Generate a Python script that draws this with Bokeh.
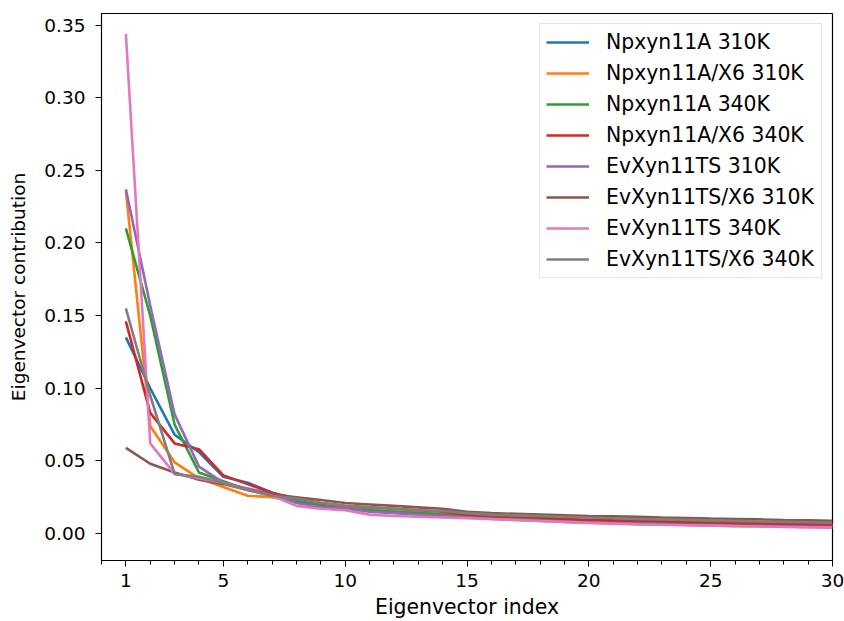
from bokeh.plotting import figure
from bokeh.models import Range1d, FixedTicker, PrintfTickFormatter, Legend, LegendItem
from bokeh.embed import file_html
from bokeh.resources import INLINE

idx = list(range(1, 31))

npx_310 = [0.135, 0.100, 0.068, 0.056, 0.039, 0.035, 0.028, 0.023, 0.020, 0.018,
           0.016, 0.015, 0.014, 0.013, 0.012, 0.011, 0.0105, 0.010, 0.0095, 0.009,
           0.0087, 0.0083, 0.008, 0.0077, 0.0074, 0.007, 0.0067, 0.0064, 0.0061, 0.0058]
npx_x6_310 = [0.236, 0.074, 0.049, 0.038, 0.032, 0.026, 0.025, 0.022, 0.019, 0.018,
              0.016, 0.015, 0.014, 0.013, 0.012, 0.011, 0.0105, 0.010, 0.0095, 0.009,
              0.0086, 0.0082, 0.0078, 0.0075, 0.0072, 0.0069, 0.0066, 0.0063, 0.006, 0.0057]
npx_340 = [0.210, 0.150, 0.075, 0.042, 0.036, 0.030, 0.026, 0.022, 0.019, 0.017,
           0.016, 0.015, 0.014, 0.013, 0.012, 0.011, 0.0098, 0.0095, 0.009, 0.0086,
           0.0082, 0.0079, 0.0076, 0.0072, 0.007, 0.0067, 0.0064, 0.0061, 0.0058, 0.0055]
npx_x6_340 = [0.146, 0.083, 0.062, 0.058, 0.040, 0.034, 0.028, 0.024, 0.021, 0.019,
              0.018, 0.017, 0.016, 0.015, 0.013, 0.012, 0.0115, 0.011, 0.010, 0.0095,
              0.009, 0.0088, 0.0085, 0.008, 0.0077, 0.0073, 0.007, 0.0067, 0.0063, 0.006]
ev_310 = [0.237, 0.157, 0.082, 0.046, 0.035, 0.031, 0.027, 0.021, 0.018, 0.017,
          0.015, 0.014, 0.013, 0.012, 0.011, 0.010, 0.0093, 0.0087, 0.008, 0.0075,
          0.007, 0.0066, 0.0062, 0.0058, 0.0055, 0.0052, 0.005, 0.0048, 0.0046, 0.0044]
ev_x6_310 = [0.059, 0.048, 0.042, 0.037, 0.034, 0.030, 0.027, 0.025, 0.023, 0.021,
             0.020, 0.019, 0.018, 0.017, 0.015, 0.014, 0.0135, 0.013, 0.0125, 0.012,
             0.0118, 0.0115, 0.011, 0.0107, 0.0103, 0.010, 0.0097, 0.0093, 0.009, 0.0087]
ev_340 = [0.344, 0.062, 0.041, 0.038, 0.035, 0.030, 0.026, 0.019, 0.017, 0.016,
          0.013, 0.012, 0.0115, 0.011, 0.0105, 0.010, 0.0093, 0.0086, 0.008, 0.0073,
          0.0068, 0.0063, 0.006, 0.0057, 0.0054, 0.0051, 0.0048, 0.0045, 0.0042, 0.004]
ev_x6_340 = [0.155, 0.095, 0.041, 0.039, 0.035, 0.030, 0.026, 0.024, 0.021, 0.019,
             0.018, 0.017, 0.016, 0.0155, 0.014, 0.013, 0.0125, 0.012, 0.0115, 0.011,
             0.0105, 0.010, 0.0097, 0.0094, 0.009, 0.0087, 0.0083, 0.008, 0.0077, 0.0074]

labels = ["Npxyn11A 310K", "Npxyn11A/X6 310K", "Npxyn11A 340K", "Npxyn11A/X6 340K",
          "EvXyn11TS 310K", "EvXyn11TS/X6 310K", "EvXyn11TS 340K", "EvXyn11TS/X6 340K"]
series = [npx_310, npx_x6_310, npx_340, npx_x6_340, ev_310, ev_x6_310, ev_340, ev_x6_340]
colors = ["#1f77b4", "#ff7f0e", "#2ca02c", "#d62728",
          "#9467bd", "#8c564b", "#e377c2", "#7f7f7f"]

x_major = [1, 5, 10, 15, 20, 25, 30]
y_major = [0.0, 0.05, 0.10, 0.15, 0.20, 0.25, 0.30, 0.35]

FONT = "DejaVu Sans"
FS = "18.5px"
FS_BIG = "20.4px"

p = figure(width=844, height=621, output_backend="svg", toolbar_location=None,
           x_range=Range1d(0, 30), y_range=Range1d(-0.0186, 0.358),
           min_border_left=101, min_border_right=12, min_border_top=13, min_border_bottom=61)

items = []
for lab, ys, c in zip(labels, series, colors):
    r = p.line(idx, ys, line_color=c, line_width=2.6)
    items.append(LegendItem(label=lab, renderers=[r]))

p.xgrid.visible = False
p.ygrid.visible = False
p.outline_line_color = "black"
p.outline_line_width = 1.2

p.xaxis.ticker = FixedTicker(ticks=x_major, minor_ticks=list(range(0, 31)))
p.yaxis.ticker = FixedTicker(ticks=y_major, minor_ticks=[])
p.yaxis.formatter = PrintfTickFormatter(format="%.2f")

for ax in (p.xaxis[0], p.yaxis[0]):
    ax.axis_line_color = "black"
    ax.major_tick_line_color = "black"
    ax.minor_tick_line_color = "black"
    ax.major_tick_out = 6
    ax.major_tick_in = 0
    ax.minor_tick_out = 4
    ax.minor_tick_in = 0
    ax.major_label_text_font = FONT
    ax.major_label_text_font_size = FS
    ax.major_label_text_color = "black"
    ax.axis_label_text_font = FONT
    ax.axis_label_text_font_size = FS
    ax.axis_label_text_font_style = "normal"
    ax.axis_label_text_color = "black"

p.xaxis.axis_label = "Eigenvector index"
p.yaxis.axis_label = "Eigenvector contribution"
p.xaxis.axis_label_text_font_size = FS_BIG
p.xaxis.major_label_standoff = 7
p.xaxis.axis_label_standoff = 5
p.yaxis.major_label_standoff = 10
p.yaxis.axis_label_standoff = 12

legend = Legend(items=items, location="top_right")
legend.label_text_font = FONT
legend.label_text_font_size = FS_BIG
legend.label_text_color = "black"
legend.glyph_width = 43
legend.glyph_height = 24
legend.label_height = 24
legend.label_width = 209
legend.label_standoff = 17
legend.spacing = 7
legend.padding = 6
legend.margin = 10
legend.border_line_color = "#cccccc"
legend.border_line_width = 1
legend.background_fill_color = "white"
legend.background_fill_alpha = 0.8
p.add_layout(legend)

open("out.html", "w").write(file_html(p, INLINE))
